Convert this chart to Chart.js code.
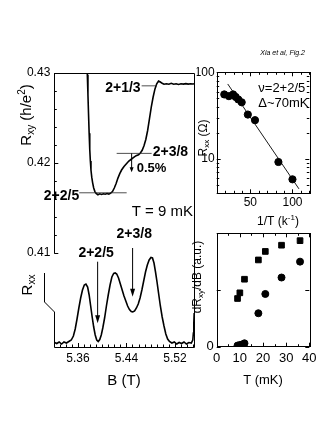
<!DOCTYPE html>
<html>
<head>
<meta charset="utf-8">
<script src="https://cdn.jsdelivr.net/npm/chart.js@4.4.1/dist/chart.umd.min.js"></script>
<style>
  html, body { margin: 0; padding: 0; background: #fff; }
  #wrap { position: relative; width: 327px; height: 423px; }
  canvas { position: absolute; left: 0; top: 0; }
</style>
</head>
<body>
<div id="wrap">
  <canvas id="left" width="327" height="423"></canvas>
  <canvas id="arrh" width="327" height="423"></canvas>
  <canvas id="slope" width="327" height="423"></canvas>
</div>
<script>
// Rxy at T = 9 mK (B in T, Rxy in h/e^2)
const bRxy = [5.3745, 5.3755, 5.3765, 5.3775, 5.3785, 5.3795, 5.3805, 5.3815, 5.3828, 5.3842,
  5.3860, 5.3880, 5.3900, 5.3930, 5.3960, 5.3990, 5.4020, 5.4050, 5.4080, 5.4110,
  5.4140, 5.4170, 5.4200, 5.4230, 5.4260, 5.4290, 5.4320, 5.4360, 5.4400, 5.4440,
  5.4480, 5.4520, 5.4560, 5.4600, 5.4630, 5.4660, 5.4690, 5.4720, 5.4750, 5.4780,
  5.4810, 5.4840, 5.4870, 5.4900, 5.4930, 5.4960, 5.4990, 5.5020, 5.5060, 5.5100,
  5.5140, 5.5180, 5.5220, 5.5260, 5.5300, 5.5340, 5.5380, 5.5420, 5.5460, 5.5500, 5.5520];
const rxy = [0.4320, 0.4298, 0.4276, 0.4254, 0.4233, 0.4215, 0.4202, 0.4192, 0.4184, 0.4178,
  0.4172, 0.4168, 0.4166, 0.41645, 0.41655, 0.41648, 0.41656, 0.41650, 0.41658, 0.41652,
  0.41662, 0.4168, 0.4172, 0.4177, 0.4183, 0.4188, 0.4192, 0.4196, 0.4199, 0.4202,
  0.4204, 0.4206, 0.4208, 0.4209, 0.4211, 0.4214, 0.4219, 0.4226, 0.4236, 0.4249,
  0.4262, 0.4273, 0.4282, 0.4288, 0.4291, 0.4290, 0.42885, 0.42875, 0.4288, 0.42875,
  0.42885, 0.42875, 0.4288, 0.42872, 0.4288, 0.42876, 0.42882, 0.42876, 0.4288, 0.42878, 0.4288];

// Rxx, arbitrary units
const bRxx = [5.3215, 5.3250, 5.3290, 5.3330, 5.3370, 5.3410, 5.3450, 5.3490, 5.3525, 5.3555,
  5.3585, 5.3615, 5.3645, 5.3675, 5.3705, 5.3732, 5.3760, 5.3785, 5.3810, 5.3835,
  5.3860, 5.3885, 5.3910, 5.3935, 5.3960, 5.3985, 5.4010, 5.4040, 5.4070, 5.4100,
  5.4130, 5.4160, 5.4190, 5.4215, 5.4240, 5.4270, 5.4300, 5.4330, 5.4360, 5.4390,
  5.4420, 5.4450, 5.4480, 5.4505, 5.4535, 5.4565, 5.4595, 5.4625, 5.4655, 5.4685,
  5.4715, 5.4745, 5.4775, 5.4805, 5.4830, 5.4855, 5.4880, 5.4905, 5.4930, 5.4960,
  5.4990, 5.5020, 5.5050, 5.5080, 5.5110, 5.5150, 5.5190, 5.5230, 5.5270, 5.5310,
  5.5350, 5.5390, 5.5430, 5.5470, 5.5495, 5.5505, 5.5512, 5.5518];
const rxx = [0.25, 0.15, 0.3, 0.1, 0.3, 0.2, 0.35, 0.5, 0.9, 1.6,
  2.6, 3.7, 4.7, 5.5, 6.0, 6.1, 5.8, 5.0, 3.9, 2.8,
  1.8, 1.0, 0.5, 0.35, 0.55, 1.0, 1.7, 2.7, 3.9, 5.0,
  6.0, 6.8, 7.15, 7.2, 7.1, 6.7, 6.1, 5.5, 4.9, 4.4,
  3.9, 3.55, 3.35, 3.3, 3.4, 3.7, 4.1, 4.7, 5.5, 6.4,
  7.3, 8.0, 8.5, 8.75, 8.7, 8.2, 7.3, 6.3, 5.2, 3.9,
  2.8, 1.9, 1.1, 0.6, 0.35, 0.2, 0.3, 0.1, 0.25, 0.15,
  0.3, 0.1, 0.25, 0.2, 0.5, 1.2, 2.2, 3.2];

// activation plot at nu = 2+2/5
const invT = [19, 24.5, 29.5, 32.5, 35.7, 39.7, 47, 55.5, 83.3, 100];
const rActiv = [55.5, 53, 55.5, 52, 48.5, 45, 32.5, 28, 9.2, 5.8];
const fitInvT = [23.1, 107.7];
const fitR = [73.3, 4.5];

// dRxy/dB against T
const tSquare = [9, 10, 12, 18, 21, 28, 36];
const dSquare = [0.85, 0.95, 1.19, 1.53, 1.68, 1.79, 1.87];
const tCircle = [9, 10, 11, 12, 18, 21, 28, 36];
const dCircle = [0.02, 0.03, 0.04, 0.06, 0.59, 0.93, 1.22, 1.5];

// tick labels
const bTicks = [5.36, 5.44, 5.52];
const rxyTicks = [0.41, 0.42, 0.43];
const invTTicks = [50, 100];
const rTicks = [10, 100];
const tTicks = [0, 10, 20, 30, 40];
const dTicks = [0];

const FONT = "'Liberation Sans', Arial, sans-serif";
Chart.defaults.font.family = FONT;
Chart.defaults.color = '#000';

const pts = (xs, ys) => xs.map((x, i) => ({ x: x, y: ys[i] }));
const near = (list, v) => list.some(t => Math.abs(t - v) < 1e-6);

// text with sub/superscripts: parts = [text, size, shift, weight]
function rich(ctx, parts, x, y, align, rotate) {
  ctx.save();
  ctx.translate(x, y);
  if (rotate) ctx.rotate(-Math.PI / 2);
  let w = 0;
  parts.forEach(p => { ctx.font = (p[3] || '') + ' ' + p[1] + 'px ' + FONT; w += ctx.measureText(p[0]).width; });
  let cx = align === 'center' ? -w / 2 : align === 'right' ? -w : 0;
  ctx.textAlign = 'left';
  ctx.textBaseline = 'middle';
  ctx.fillStyle = '#000';
  parts.forEach(p => {
    ctx.font = (p[3] || '') + ' ' + p[1] + 'px ' + FONT;
    ctx.fillText(p[0], cx, p[2] || 0);
    cx += ctx.measureText(p[0]).width;
  });
  ctx.restore();
}

function arrow(ctx, x, y1, y2, head, half) {
  ctx.beginPath();
  ctx.moveTo(x, y1);
  ctx.lineTo(x, y2 - head + 1);
  ctx.stroke();
  ctx.beginPath();
  ctx.moveTo(x, y2);
  ctx.lineTo(x - half, y2 - head);
  ctx.lineTo(x + half, y2 - head);
  ctx.closePath();
  ctx.fill();
}

// inward tick marks on the given sides
function inTicks(ctx, chart, id, sides, major, minor) {
  const s = chart.scales[id], a = chart.chartArea;
  s.ticks.forEach(t => {
    const len = t.label !== '' ? major : minor;
    const p = Math.round(s.getPixelForValue(t.value)) + 0.5;
    sides.forEach(side => {
      ctx.beginPath();
      if (side === 'bottom') { ctx.moveTo(p, a.bottom); ctx.lineTo(p, a.bottom - len); }
      if (side === 'top') { ctx.moveTo(p, a.top); ctx.lineTo(p, a.top + len); }
      if (side === 'left') { ctx.moveTo(a.left, p); ctx.lineTo(a.left + len, p); }
      if (side === 'right') { ctx.moveTo(a.right, p); ctx.lineTo(a.right - len, p); }
      ctx.stroke();
    });
  });
}

function box(ctx, a) {
  ctx.strokeRect(Math.round(a.left) + 0.5, Math.round(a.top) + 0.5,
    Math.round(a.right - a.left), Math.round(a.bottom - a.top));
}

const noGrid = { display: false, drawTicks: false };
const noBorder = { display: false };
const tickFont = { size: 12 };

// ---------- left panel: Rxy and Rxx against B ----------
const leftDeco = {
  id: 'leftDeco',
  afterDraw(chart) {
    const { ctx, chartArea: a, scales } = chart;
    const X = v => scales.x.getPixelForValue(v);
    const Y = v => scales.y.getPixelForValue(v);
    const YX = v => scales.yxx.getPixelForValue(v);
    ctx.save();
    ctx.strokeStyle = '#000';
    ctx.fillStyle = '#000';
    ctx.lineWidth = 1;
    const L = Math.round(a.left) + 0.5, R = Math.round(a.right) + 0.5;
    const T = Math.round(a.top) + 0.5, B = Math.round(a.bottom) + 0.5;
    ctx.beginPath();
    ctx.moveTo(L, T); ctx.lineTo(R, T); ctx.lineTo(R, B); ctx.lineTo(L, B);
    ctx.moveTo(L, Y(0.43)); ctx.lineTo(L, Math.round(Y(0.41)) + 0.5);
    // broken Rxx axis
    ctx.moveTo(L - 10, YX(7.2)); ctx.lineTo(L - 10, YX(4.3)); ctx.lineTo(L, YX(3.3)); ctx.lineTo(L, B);
    ctx.stroke();
    inTicks(ctx, chart, 'y', ['left'], 4, 2.5);
    inTicks(ctx, chart, 'x', ['bottom'], 4, 2.5);

    // plateau reference lines
    ctx.lineWidth = 0.8;
    ctx.strokeStyle = '#222';
    [[3 / 7, 5.4651, 5.4899], [8 / 19, 5.4239, 5.4816], [5 / 12, 5.3621, 5.4404]].forEach(l => {
      ctx.beginPath();
      ctx.moveTo(X(l[1]), Y(l[0]));
      ctx.lineTo(X(l[2]), Y(l[0]));
      ctx.stroke();
    });
    ctx.strokeStyle = '#000';
    ctx.lineWidth = 1;
    rich(ctx, [['2+1/3', 14, 0, 'bold']], X(5.4651) - 1, Y(3 / 7) + 2, 'right');
    rich(ctx, [['2+3/8', 14, 0, 'bold']], X(5.4833), Y(8 / 19) - 1, 'left');
    rich(ctx, [['2+2/5', 14, 0, 'bold']], X(5.3621), Y(5 / 12) + 3.5, 'right');
    arrow(ctx, X(5.4486), Y(8 / 19), Y(8 / 19 * 0.995), 5, 2);
    rich(ctx, [['0.5%', 13, 0, 'bold']], X(5.4569), Y(0.41941), 'left');
    rich(ctx, [['T = 9 mK', 15]], X(5.4486), Y(0.4145), 'left');

    rich(ctx, [['2+3/8', 14, 0, 'bold']], X(5.453), YX(11.1), 'center');
    rich(ctx, [['2+2/5', 14, 0, 'bold']], X(5.39), YX(9.17), 'center');
    arrow(ctx, X(5.4502), YX(9.7), YX(4.83), 8, 2.5);
    arrow(ctx, X(5.3925), YX(8.33), YX(2.17), 8, 2.5);

    // axis titles
    rich(ctx, [['R', 15], ['xy', 10, 4], [' (h/e', 15], ['2', 10, -5], [')', 15]], a.left - 27, 115, 'center', true);
    rich(ctx, [['R', 15], ['xx', 10, 4]], a.left - 26, 285, 'center', true);
    rich(ctx, [['B (T)', 15]], 124, a.bottom + 34, 'center');
    ctx.restore();
  }
};

new Chart(document.getElementById('left'), {
  type: 'line',
  data: {
    datasets: [
      { data: pts(bRxy, rxy), yAxisID: 'y', borderColor: '#000', borderWidth: 1.6, pointRadius: 0, tension: 0 },
      { data: pts(bRxx, rxx), yAxisID: 'yxx', borderColor: '#000', borderWidth: 1.6, pointRadius: 0, tension: 0 }
    ]
  },
  options: {
    responsive: false,
    animation: false,
    layout: { padding: { left: 0, top: 73, right: 132.7, bottom: 46 } },
    plugins: { legend: { display: false }, tooltip: { enabled: false } },
    scales: {
      x: {
        type: 'linear', min: 5.321, max: 5.552,
        grid: noGrid, border: noBorder,
        afterBuildTicks: s => {
          const t = [];
          for (let k = 533; k <= 555; k++) t.push({ value: k / 100 });
          s.ticks = t;
        },
        afterFit: s => { s.height = 30; },
        ticks: { autoSkip: false, maxRotation: 0, padding: 4, font: tickFont,
          callback: v => near(bTicks, v) ? v.toFixed(2) : '' }
      },
      y: {
        type: 'linear', min: 0.3995, max: 0.43,
        grid: noGrid, border: noBorder,
        afterBuildTicks: s => {
          const t = [];
          for (let k = 410; k <= 430; k += 2) t.push({ value: k / 1000 });
          s.ticks = t;
        },
        afterFit: s => { s.width = 54.3; },
        ticks: { autoSkip: false, padding: 4, font: tickFont,
          callback: v => near(rxyTicks, v) ? v.toFixed(2) : '' }
      },
      yxx: { type: 'linear', min: -0.2, max: 27.2, display: false }
    }
  },
  plugins: [leftDeco]
});

// ---------- top right: Rxx against 1/T ----------
const arrhDeco = {
  id: 'arrhDeco',
  afterDraw(chart) {
    const { ctx, chartArea: a } = chart;
    ctx.save();
    ctx.strokeStyle = '#000';
    ctx.lineWidth = 1;
    box(ctx, a);
    inTicks(ctx, chart, 'x', ['bottom', 'top'], 4, 2.5);
    inTicks(ctx, chart, 'y', ['left', 'right'], 4, 2.5);
    rich(ctx, [['\u03BD=2+2/5', 13]], 258.3, 88.3, 'left');
    rich(ctx, [['\u0394~70mK', 13]], 258.3, 103.3, 'left');
    rich(ctx, [['R', 12], ['xx', 8, 3], [' (\u03A9)', 12]], a.left - 13, 138, 'center', true);
    rich(ctx, [['1/T (k', 12], ['-1', 8, -4], [')', 12]], 278, a.bottom + 28, 'center');
    ctx.font = 'italic 7px ' + FONT;
    ctx.textAlign = 'right';
    ctx.textBaseline = 'middle';
    ctx.fillStyle = '#000';
    ctx.fillText('Xia et al, Fig.2', 305, 53);
    ctx.restore();
  }
};

new Chart(document.getElementById('arrh'), {
  type: 'scatter',
  data: {
    datasets: [
      { data: pts(invT, rActiv), backgroundColor: '#000', borderColor: '#000', pointRadius: 3.6, pointStyle: 'circle' },
      { data: pts(fitInvT, fitR), showLine: true, borderColor: '#000', borderWidth: 0.9, pointRadius: 0 }
    ]
  },
  options: {
    responsive: false,
    animation: false,
    layout: { padding: { left: 196.7, top: 72.3, right: 17.7, bottom: 209.7 } },
    plugins: { legend: { display: false }, tooltip: { enabled: false } },
    scales: {
      x: {
        type: 'linear', min: 10, max: 120,
        grid: noGrid, border: noBorder,
        afterBuildTicks: s => {
          const t = [];
          for (let k = 10; k <= 120; k += 10) t.push({ value: k });
          s.ticks = t;
        },
        afterFit: s => { s.height = 20; },
        ticks: { autoSkip: false, maxRotation: 0, padding: 2, font: tickFont,
          callback: v => near(invTTicks, v) ? String(v) : '' }
      },
      y: {
        type: 'logarithmic', min: 4, max: 100,
        grid: noGrid, border: noBorder,
        afterBuildTicks: s => {
          const t = [];
          [4, 5, 6, 7, 8, 9, 10, 20, 30, 40, 50, 60, 70, 80, 90, 100].forEach(v => t.push({ value: v }));
          s.ticks = t;
        },
        afterFit: s => { s.width = 20; },
        ticks: { autoSkip: false, padding: 2, font: tickFont,
          callback: v => near(rTicks, v) ? String(v) : '' }
      }
    }
  },
  plugins: [arrhDeco]
});

// ---------- bottom right: dRxy/dB against T ----------
const slopeDeco = {
  id: 'slopeDeco',
  afterDraw(chart) {
    const { ctx, chartArea: a } = chart;
    ctx.save();
    ctx.strokeStyle = '#000';
    ctx.lineWidth = 1;
    box(ctx, a);
    inTicks(ctx, chart, 'x', ['bottom', 'top'], 4, 2.5);
    inTicks(ctx, chart, 'y', ['left', 'right'], 4, 4);
    rich(ctx, [['dR', 12], ['xy', 8, 3], ['/dB (a.u.)', 12]], a.left - 19, 277, 'center', true);
    rich(ctx, [['T (mK)', 13]], 263, a.bottom + 34, 'center');
    ctx.restore();
  }
};

new Chart(document.getElementById('slope'), {
  type: 'scatter',
  data: {
    datasets: [
      { data: pts(tSquare, dSquare), backgroundColor: '#000', borderColor: '#000', pointRadius: 4, pointStyle: 'rect' },
      { data: pts(tCircle, dCircle), backgroundColor: '#000', borderColor: '#000', pointRadius: 3.5, pointStyle: 'circle' }
    ]
  },
  options: {
    responsive: false,
    animation: false,
    layout: { padding: { left: 196.7, top: 233.3, right: 17.7, bottom: 56.3 } },
    plugins: { legend: { display: false }, tooltip: { enabled: false } },
    scales: {
      x: {
        type: 'linear', min: 0, max: 40,
        grid: noGrid, border: noBorder,
        afterBuildTicks: s => {
          const t = [];
          for (let k = 0; k <= 40; k += 5) t.push({ value: k });
          s.ticks = t;
        },
        afterFit: s => { s.height = 20; },
        ticks: { autoSkip: false, maxRotation: 0, padding: 4, font: { size: 13 },
          callback: v => near(tTicks, v) ? String(v) : '' }
      },
      y: {
        type: 'linear', min: 0, max: 2,
        grid: noGrid, border: noBorder,
        afterBuildTicks: s => { s.ticks = [{ value: 0 }, { value: 1 }, { value: 2 }]; },
        afterFit: s => { s.width = 20; },
        ticks: { autoSkip: false, padding: 3, font: { size: 13 },
          callback: v => near(dTicks, v) ? String(v) : '' }
      }
    }
  },
  plugins: [slopeDeco]
});
</script>
</body>
</html>
